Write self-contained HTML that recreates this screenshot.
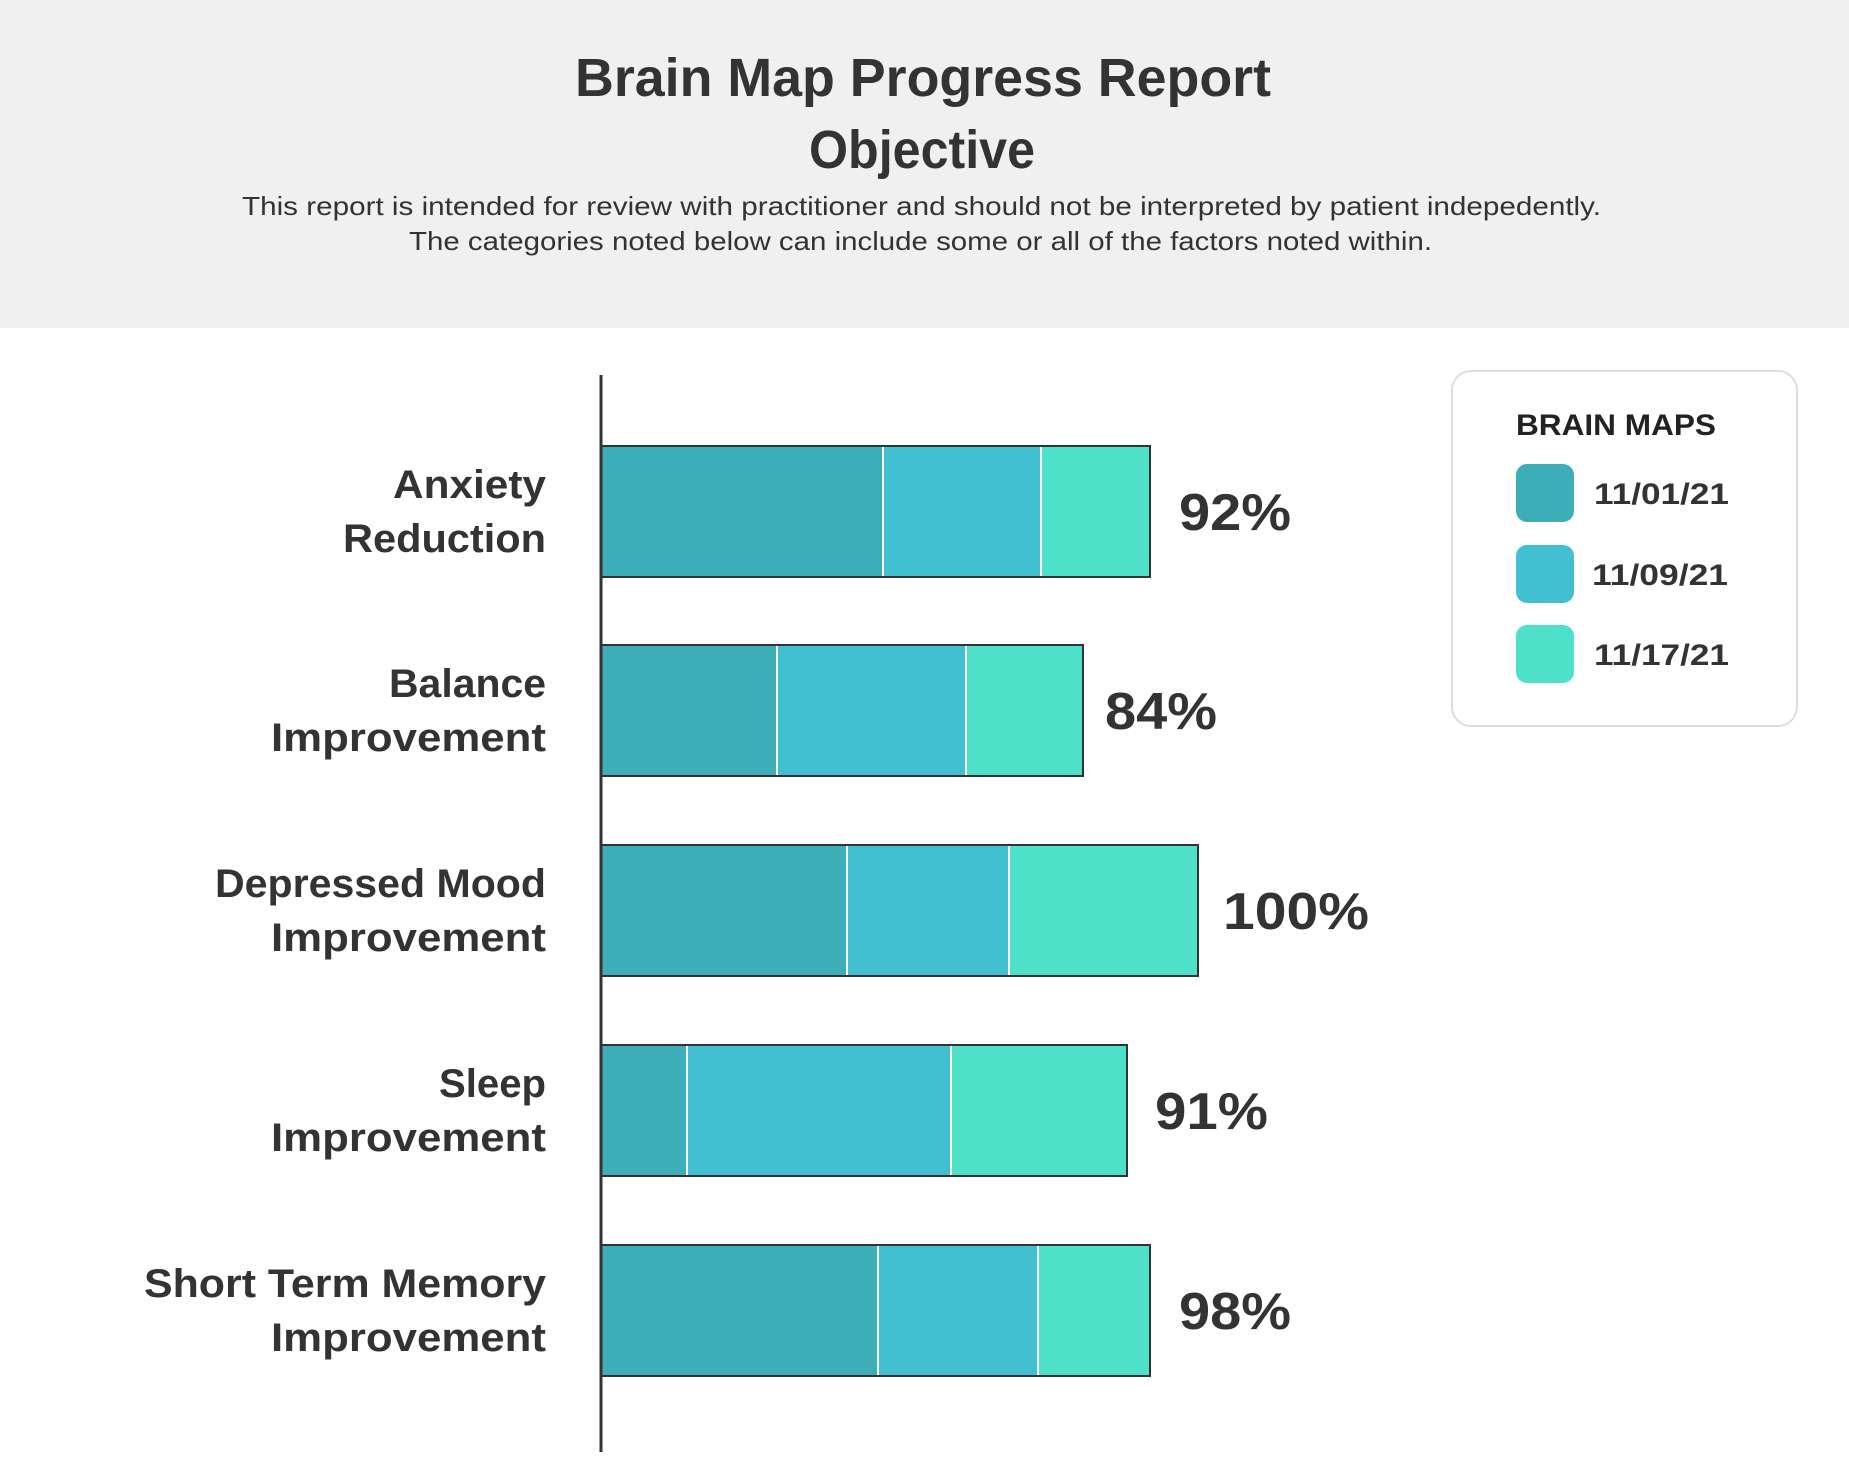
<!DOCTYPE html>
<html><head><meta charset="utf-8"><style>
html,body{margin:0;padding:0;background:#fff}
svg{display:block}
text{font-family:"Liberation Sans",sans-serif;fill:#333}
</style></head><body>
<svg width="1849" height="1477" viewBox="0 0 1849 1477" xmlns="http://www.w3.org/2000/svg">
<rect x="0" y="0" width="1849" height="328" fill="#f0f0f0"/>
<text x="575" y="96" font-size="54" font-weight="bold" textLength="696" lengthAdjust="spacingAndGlyphs">Brain Map Progress Report</text>
<text x="809" y="168" font-size="54" font-weight="bold" textLength="226" lengthAdjust="spacingAndGlyphs">Objective</text>
<text x="242" y="215" font-size="26" textLength="1359" lengthAdjust="spacingAndGlyphs">This report is intended for review with practitioner and should not be interpreted by patient indepedently.</text>
<text x="409" y="250" font-size="26" textLength="1023" lengthAdjust="spacingAndGlyphs">The categories noted below can include some or all of the factors noted within.</text>

<line x1="601" y1="375" x2="601" y2="1452" stroke="#333" stroke-width="3"/>

<g stroke="#333" stroke-width="2">
<!-- row1 -->
<rect x="601" y="446" width="282" height="131" fill="#3daeb8"/>
<rect x="883" y="446" width="158" height="131" fill="#42c0d2"/>
<rect x="1041" y="446" width="109" height="131" fill="#4ee0c9"/>
<!-- row2 -->
<rect x="601" y="645" width="176" height="131" fill="#3daeb8"/>
<rect x="777" y="645" width="189" height="131" fill="#42c0d2"/>
<rect x="966" y="645" width="117" height="131" fill="#4ee0c9"/>
<!-- row3 -->
<rect x="601" y="845" width="246" height="131" fill="#3daeb8"/>
<rect x="847" y="845" width="162" height="131" fill="#42c0d2"/>
<rect x="1009" y="845" width="189" height="131" fill="#4ee0c9"/>
<!-- row4 -->
<rect x="601" y="1045" width="86" height="131" fill="#3daeb8"/>
<rect x="687" y="1045" width="264" height="131" fill="#42c0d2"/>
<rect x="951" y="1045" width="176" height="131" fill="#4ee0c9"/>
<!-- row5 -->
<rect x="601" y="1245" width="277" height="131" fill="#3daeb8"/>
<rect x="878" y="1245" width="160" height="131" fill="#42c0d2"/>
<rect x="1038" y="1245" width="112" height="131" fill="#4ee0c9"/>
</g>
<g stroke="#fff" stroke-width="2">
<line x1="883" y1="447" x2="883" y2="576"/><line x1="1041" y1="447" x2="1041" y2="576"/>
<line x1="777" y1="646" x2="777" y2="775"/><line x1="966" y1="646" x2="966" y2="775"/>
<line x1="847" y1="846" x2="847" y2="975"/><line x1="1009" y1="846" x2="1009" y2="975"/>
<line x1="687" y1="1046" x2="687" y2="1175"/><line x1="951" y1="1046" x2="951" y2="1175"/>
<line x1="878" y1="1246" x2="878" y2="1375"/><line x1="1038" y1="1246" x2="1038" y2="1375"/>
</g>
<line x1="601" y1="375" x2="601" y2="1452" stroke="#333" stroke-width="3"/>

<g font-size="40" font-weight="bold">
<text x="393" y="498" textLength="153" lengthAdjust="spacingAndGlyphs">Anxiety</text>
<text x="343" y="552" textLength="203" lengthAdjust="spacingAndGlyphs">Reduction</text>
<text x="389" y="697" textLength="157" lengthAdjust="spacingAndGlyphs">Balance</text>
<text x="271" y="751" textLength="275" lengthAdjust="spacingAndGlyphs">Improvement</text>
<text x="215" y="897" textLength="331" lengthAdjust="spacingAndGlyphs">Depressed Mood</text>
<text x="271" y="951" textLength="275" lengthAdjust="spacingAndGlyphs">Improvement</text>
<text x="439" y="1097" textLength="107" lengthAdjust="spacingAndGlyphs">Sleep</text>
<text x="271" y="1151" textLength="275" lengthAdjust="spacingAndGlyphs">Improvement</text>
<text x="144" y="1297" textLength="402" lengthAdjust="spacingAndGlyphs">Short Term Memory</text>
<text x="271" y="1351" textLength="275" lengthAdjust="spacingAndGlyphs">Improvement</text>
</g>
<g font-size="52" font-weight="bold">
<text x="1179" y="530" textLength="112" lengthAdjust="spacingAndGlyphs">92%</text>
<text x="1105" y="729" textLength="112" lengthAdjust="spacingAndGlyphs">84%</text>
<text x="1223" y="929" textLength="146" lengthAdjust="spacingAndGlyphs">100%</text>
<text x="1155" y="1129" textLength="113" lengthAdjust="spacingAndGlyphs">91%</text>
<text x="1179" y="1329" textLength="112" lengthAdjust="spacingAndGlyphs">98%</text>
</g>

<rect x="1452" y="371" width="345" height="355" rx="19" fill="#fff" stroke="#ddd" stroke-width="2"/>
<text x="1516" y="435" font-size="30" font-weight="bold" textLength="200" lengthAdjust="spacingAndGlyphs" style="fill:#222">BRAIN MAPS</text>
<rect x="1516" y="464" width="58" height="58" rx="11" fill="#3daeb8"/>
<rect x="1516" y="545" width="58" height="58" rx="11" fill="#42c0d2"/>
<rect x="1516" y="625" width="58" height="58" rx="11" fill="#4ee0c9"/>
<g font-size="30" font-weight="bold">
<text x="1594" y="504" textLength="135" lengthAdjust="spacingAndGlyphs">11/01/21</text>
<text x="1592" y="585" textLength="136" lengthAdjust="spacingAndGlyphs">11/09/21</text>
<text x="1594" y="665" textLength="135" lengthAdjust="spacingAndGlyphs">11/17/21</text>
</g>
</svg>
</body></html>
